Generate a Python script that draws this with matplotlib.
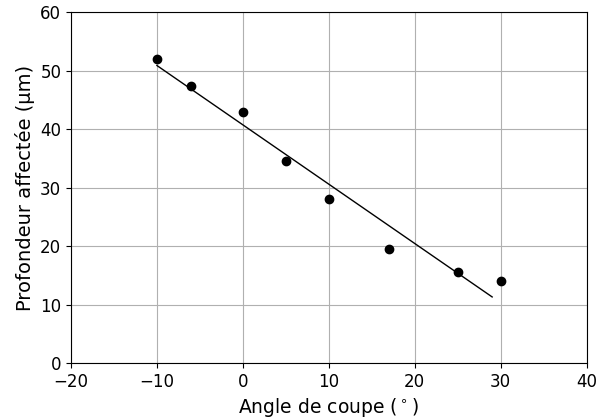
import numpy as np
import matplotlib
matplotlib.use("Agg")
import matplotlib.pyplot as plt

angle = [-10, -6, 0, 5, 10, 17, 25, 30]
depth = [52, 47.5, 43, 34.5, 28, 19.5, 15.5, 14]
fit_x_range = [-10, 29]

fig = plt.figure(figsize=(5.98, 4.18), dpi=100)
ax = fig.add_axes([0.1187, 0.1316, 0.8624, 0.8385])

coef = np.polyfit(angle, depth, 1)
xs = np.linspace(fit_x_range[0], fit_x_range[1], 50)
ax.plot(xs, np.polyval(coef, xs), color='black', linewidth=1)
ax.plot(angle, depth, 'o', color='black', markersize=6)

ax.set_xlim(-20, 40)
ax.set_ylim(0, 60)
ax.set_xticks([-20, -10, 0, 10, 20, 30, 40])
ax.set_yticks([0, 10, 20, 30, 40, 50, 60])
ax.grid(True, color='#b0b0b0', linewidth=0.8)
ax.tick_params(labelsize=12)
ax.set_xlabel('Angle de coupe ($^\\circ$)', fontsize=13.5)
ax.set_ylabel('Profondeur affectée (µm)', fontsize=14)

fig.savefig('out.png', dpi=100)
